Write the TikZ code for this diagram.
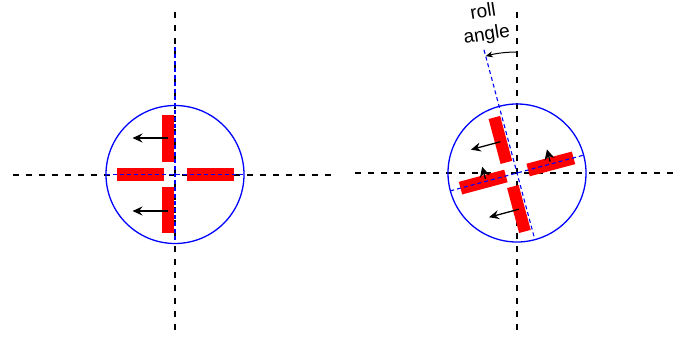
\documentclass[tikz,border=0pt]{standalone}
\usepackage{fontspec}
\setmainfont{Liberation Sans}
\usetikzlibrary{arrows.meta}
\begin{document}
\begin{tikzpicture}[x=1pt,y=-1pt,
  axis/.style={black, line width=2pt, dash pattern=on 6pt off 7pt},
  bodyaxis/.style={blue, line width=1.1pt, dash pattern=on 4pt off 3pt},
  hull/.style={blue, line width=1.3pt},
  fin/.style={fill=red, draw=none},
  force/.style={black, line width=1.3pt, -{Stealth[length=10pt,width=9pt,inset=3.5pt]}},
  lift/.style={black, line width=1.3pt, -{Stealth[length=10pt,width=10pt,inset=3pt]}},
  rollarrow/.style={black, line width=1pt, -{Stealth[length=7pt,width=6pt,inset=2pt]}},
]
\fill[white] (0,0) rectangle (679,340);
\useasboundingbox (0,0) rectangle (679,340);

% reference axes
\coordinate (cL) at (175,174.5);
\coordinate (cR) at (517,173);
\draw[axis] (175,12) -- (175,336);
\draw[axis] (13,175) -- (337,175);
\draw[axis] (517,12) -- (517,336);
\draw[axis] (355,172.5) -- (678,172.5);

% body in neutral attitude
\begin{scope}[shift={(cL)}, y=1pt]
  \draw[hull] (0,0) circle[radius=69pt];
  \fill[fin] (-13.5,13) rectangle (-1.5,59.5);
  \fill[fin] (-13.5,-58.5) rectangle (-1.5,-12);
  \fill[fin] (-58.5,-6.5) rectangle (-11.5,6.5);
  \fill[fin] (11.5,-6.5) rectangle (58.5,6.5);
  \draw[bodyaxis] (0,127.5) -- (0,-69);
  \draw[bodyaxis] (-69,0) -- (69,0);
  \draw[force] (-7.5,36.5) -- (-42.5,36.5);
  \draw[force] (-7.5,-36.5) -- (-42.5,-36.5);
\end{scope}

% body after rolling
\begin{scope}[shift={(cR)}, rotate=15, y=1pt]
  \draw[hull] (0,0) circle[radius=69pt];
  \fill[fin] (-13.5,13) rectangle (-1.5,59.5);
  \fill[fin] (-13.5,-58.5) rectangle (-1.5,-12);
  \fill[fin] (-58.5,-6.5) rectangle (-11.5,6.5);
  \fill[fin] (11.5,-6.5) rectangle (58.5,6.5);
  \draw[bodyaxis] (0,127.5) -- (0,-69);
  \draw[bodyaxis] (-69,0) -- (69,0);
  \draw[force] (-8,34.5) -- (-38.5,34.5);
  \draw[force] (-7.5,-35.5) -- (-38.5,-35.5);
  \draw[lift] (-32,2.5) -- (-32,15);
  \draw[lift] (35,2.5) -- (35,15);
\end{scope}

% roll angle
\begin{scope}[shift={(cR)}, y=1pt]
  \draw[rollarrow] (0,121) arc[start angle=90, end angle=105, radius=121pt];
\end{scope}
\node[rotate=9, align=center, inner sep=0pt, font=\fontsize{19}{23}\selectfont] (rollangle) at (485,24) {roll\\angle};
\end{tikzpicture}
\end{document}
